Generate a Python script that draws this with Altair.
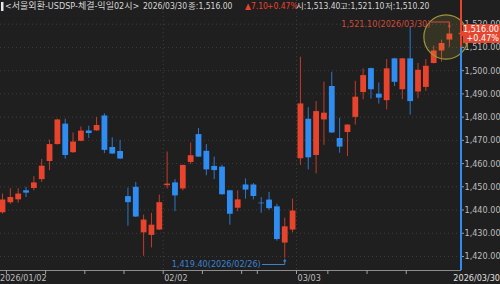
import altair as alt
import pandas as pd

# ---------------- data ----------------
dates = [
    "2026/01/02", "2026/01/05", "2026/01/06", "2026/01/07", "2026/01/08", "2026/01/09",
    "2026/01/12", "2026/01/13", "2026/01/14", "2026/01/15", "2026/01/16",
    "2026/01/19", "2026/01/20", "2026/01/21", "2026/01/22", "2026/01/23",
    "2026/01/26", "2026/01/27", "2026/01/28", "2026/01/29", "2026/01/30",
    "2026/02/02", "2026/02/03", "2026/02/04", "2026/02/05", "2026/02/06",
    "2026/02/09", "2026/02/10", "2026/02/11", "2026/02/12", "2026/02/13",
    "2026/02/19", "2026/02/20",
    "2026/02/23", "2026/02/24", "2026/02/25", "2026/02/26", "2026/02/27",
    "2026/03/03", "2026/03/04", "2026/03/05", "2026/03/06",
    "2026/03/09", "2026/03/10", "2026/03/11", "2026/03/12", "2026/03/13",
    "2026/03/16", "2026/03/17", "2026/03/18", "2026/03/19", "2026/03/20",
    "2026/03/23", "2026/03/24", "2026/03/25", "2026/03/26", "2026/03/27",
    "2026/03/30",
]
opens = [
    1439.1, 1443.4, 1444.6, 1448.5, 1449.5, 1453.3, 1461.1, 1468.4, 1477.2, 1464.9,
    1469.8, 1474.2, 1474.3, 1480.7, 1467.1, 1465.4, 1446.0, 1450.0, 1430.4, 1429.3,
    1431.6, 1450.7, 1451.9, 1449.3, 1460.7, 1472.7, 1465.5, 1459.0, 1458.7, 1448.5,
    1441.0, 1451.0, 1451.0, 1443.2, 1444.5, 1441.6, 1426.0, 1431.6, 1462.3, 1479.3,
    1463.7, 1479.0, 1493.4, 1471.0, 1473.6, 1480.1, 1490.8, 1501.1, 1490.1, 1487.3,
    1505.3, 1492.0, 1505.3, 1491.0, 1493.0, 1503.3, 1508.7, 1513.4,
]
highs = [
    1447.1, 1449.4, 1449.4, 1450.0, 1454.6, 1462.0, 1470.3, 1479.3, 1479.3, 1473.4,
    1476.0, 1476.3, 1480.1, 1481.6, 1471.3, 1470.2, 1449.7, 1452.1, 1438.0, 1438.8,
    1446.7, 1465.2, 1453.3, 1459.6, 1469.1, 1475.3, 1468.4, 1463.0, 1459.5, 1448.7,
    1448.5, 1453.6, 1451.6, 1445.6, 1447.8, 1442.7, 1436.7, 1444.9, 1506.0, 1484.3,
    1486.9, 1495.3, 1499.5, 1479.7, 1477.0, 1495.6, 1501.0, 1501.3, 1494.9, 1505.0,
    1505.5, 1505.5, 1518.8, 1503.3, 1505.0, 1510.8, 1513.4, 1521.1,
]
lows = [
    1438.5, 1442.7, 1443.2, 1445.6, 1448.5, 1452.1, 1457.2, 1468.2, 1462.1, 1464.6,
    1469.6, 1471.0, 1474.1, 1464.5, 1464.1, 1462.0, 1433.3, 1437.0, 1420.3, 1423.9,
    1431.4, 1449.3, 1439.5, 1448.5, 1459.8, 1462.8, 1455.0, 1453.3, 1446.6, 1433.7,
    1439.5, 1444.9, 1444.6, 1438.8, 1440.1, 1426.8, 1419.4, 1430.4, 1459.4, 1457.5,
    1455.8, 1468.1, 1473.2, 1464.7, 1463.2, 1476.8, 1487.7, 1488.0, 1485.8, 1483.3,
    1493.4, 1487.7, 1481.1, 1488.1, 1491.3, 1503.1, 1503.9, 1510.2,
]
closes = [
    1444.5, 1445.6, 1447.1, 1447.5, 1451.9, 1459.1, 1468.4, 1479.0, 1463.7, 1469.5,
    1474.2, 1473.2, 1476.6, 1465.9, 1464.3, 1462.2, 1443.4, 1437.2, 1435.9, 1433.7,
    1443.4, 1451.4, 1446.3, 1459.4, 1463.6, 1463.0, 1457.5, 1457.2, 1446.8, 1438.4,
    1444.6, 1448.8, 1446.0, 1442.9, 1440.8, 1427.5, 1433.0, 1439.8, 1485.9, 1462.7,
    1482.6, 1481.9, 1473.4, 1467.3, 1476.8, 1488.8, 1498.1, 1492.0, 1488.4, 1501.0,
    1495.2, 1505.3, 1486.9, 1500.4, 1502.1, 1508.7, 1511.9, 1516.0,
]
y_ticks = [1420, 1430, 1440, 1450, 1460, 1470, 1480, 1490, 1500, 1510, 1520]

header_title = "<서울외환-USDSP-체결-익일02시>"
change_abs = 7.10
change_pct = 0.47

# ---------------- colours / style ----------------
BG = "#1f1f1f"
UP = "#e8432d"
DOWN = "#2f8df2"
UP_WICK = "#c23c2b"
DOWN_WICK = "#2b78d0"
GRID = "#3e3e3e"
LABEL = "#bdbdbd"
NARROW = "Liberation Sans Narrow, DejaVu Sans Condensed, Liberation Sans, sans-serif"
KFONT = "Liberation Sans Narrow, DejaVu Sans Condensed, Noto Sans CJK KR, sans-serif"

W, H = 500, 284
PLOT_R = 461
AX_Y = 270

xs = alt.Scale(domain=[-0.319, 63.457], nice=False, zero=False)
ys = alt.Scale(domain=[1408.16, 1530.42], nice=False, zero=False)

df = pd.DataFrame({"date": dates, "open": opens, "high": highs, "low": lows, "close": closes})
df["idx"] = range(len(df))
df["dir"] = ["up" if c >= o else "down" for o, c in zip(df["open"], df["close"])]
df["x0"] = df["idx"] - 0.37
df["x1"] = df["idx"] + 0.37
dt = pd.to_datetime(df["date"])
df["week"] = dt.dt.isocalendar().week.astype(int)
df["month"] = dt.dt.month
wk = df[(df["week"] != df["week"].shift()) & (df["idx"] > 0) & (df["idx"] < len(df) - 1)].copy()
wk["xt"] = wk["idx"] - 0.5
ms = df[(df["month"] != df["month"].shift()) & (df["idx"] > 0)].copy()
ms["xt"] = ms["idx"] - 0.5
ms["lab"] = ms["date"].str[5:]

one = pd.DataFrame({"a": [0]})

X = lambda f: alt.X(f, scale=xs, axis=None)
Y = lambda f: alt.Y(f, scale=ys, axis=None)

# gridlines
gy = pd.DataFrame({"v": y_ticks})
gy["lab"] = [f"{v:,.2f}" for v in y_ticks]
hgrid = alt.Chart(gy).mark_rule(color=GRID, strokeDash=[1, 3], strokeWidth=1).encode(
    y=Y("v:Q"), x=alt.value(0), x2=alt.value(PLOT_R))
vgrid = alt.Chart(ms).mark_rule(color=GRID, strokeDash=[1, 3], strokeWidth=1).encode(
    x=X("xt:Q"), y=alt.value(0), y2=alt.value(AX_Y))

# candles
wicks = alt.Chart(df).mark_rule(strokeWidth=1).encode(
    x=X("idx:Q"), y=Y("low:Q"), y2="high:Q",
    stroke=alt.Stroke("dir:N", scale=alt.Scale(domain=["up", "down"], range=[UP_WICK, DOWN_WICK]), legend=None))
bodies = alt.Chart(df).mark_rect().encode(
    x=X("x0:Q"), x2="x1:Q", y=Y("open:Q"), y2="close:Q",
    fill=alt.Fill("dir:N", scale=alt.Scale(domain=["up", "down"], range=[UP, DOWN]), legend=None))

# right axis labels & ticks
ylabels = alt.Chart(gy).mark_text(align="left", baseline="middle", fontSize=9, font=NARROW, color=LABEL).encode(
    y=Y("v:Q"), x=alt.value(464.5), text="lab:N")
yticks = alt.Chart(gy).mark_rule(color="#9a9a9a").encode(
    y=Y("v:Q"), x=alt.value(PLOT_R), x2=alt.value(464))

# bottom axis
xline = alt.Chart(one).mark_rule(color="#8c8c8c", strokeWidth=1).encode(
    x=alt.value(0), x2=alt.value(PLOT_R), y=alt.value(AX_Y + 0.5))
wticks = alt.Chart(wk).mark_rule(color="#a0a0a0").encode(
    x=X("xt:Q"), y=alt.value(AX_Y), y2=alt.value(AX_Y + 4))
mlabels = alt.Chart(ms).mark_text(align="left", baseline="middle", fontSize=9, font=NARROW, color=LABEL, dx=1).encode(
    x=X("xt:Q"), y=alt.value(277.5), text="lab:N")
first_last = pd.DataFrame({"lab": [dates[0], dates[-1]], "px": [0, 500]})
fl_left = alt.Chart(first_last.iloc[[0]]).mark_text(align="left", baseline="middle", fontSize=9, font=NARROW, color=LABEL).encode(
    x=alt.X("px:Q", scale=None), y=alt.value(277.5), text="lab:N")
fl_right = alt.Chart(first_last.iloc[[1]]).mark_text(align="right", baseline="middle", fontSize=9, font=NARROW, color="#e0e0e0").encode(
    x=alt.X("px:Q", scale=None), y=alt.value(277.5), text="lab:N")

# highlight circle around last candles
circle = alt.Chart(one).mark_point(filled=False, fill="#c8c045", fillOpacity=0.13, stroke="#9c963a",
                                   strokeWidth=1.2, shape="circle", size=1960).encode(
    x=alt.value(446), y=alt.value(37))

# current price vertical line (red above, blue below)
last_close = closes[-1]
vred = alt.Chart(one).mark_rule(color=UP, strokeWidth=2).encode(
    x=alt.value(PLOT_R), y=alt.value(0), y2=alt.value(47))
vblue = alt.Chart(one).mark_rule(color=DOWN, strokeWidth=2).encode(
    x=alt.value(PLOT_R), y=alt.value(47), y2=alt.value(AX_Y))

# price box
pbox_df = pd.DataFrame({"l1": [f"{last_close:,.2f}"], "l2": [f"+{change_pct:.2f}%"], "v": [last_close]})
pbox = alt.Chart(pbox_df).mark_rect(color="#e4472f").encode(
    x=alt.value(463), x2=alt.value(500), y=alt.value(24), y2=alt.value(43))
parrow = alt.Chart(pbox_df).mark_point(shape="triangle-left", filled=True, color="#e4472f", size=40, opacity=1).encode(
    x=alt.value(461), y=Y("v:Q"))
ptext1 = alt.Chart(pbox_df).mark_text(align="right", baseline="middle", fontSize=9, font=NARROW, color="white").encode(
    x=alt.value(499), y=alt.value(29), text="l1:N")
ptext2 = alt.Chart(pbox_df).mark_text(align="right", baseline="middle", fontSize=9, font=NARROW, color="white").encode(
    x=alt.value(499), y=alt.value(38), text="l2:N")

# max / min annotations
imax = highs.index(max(highs))
imin = lows.index(min(lows))
mx = pd.DataFrame({"idx": [imax], "v": [highs[imax]], "lab": [f"{highs[imax]:,.2f}({dates[imax]})"]})
mn = pd.DataFrame({"idx": [imin], "v": [lows[imin]], "lab": [f"{lows[imin]:,.2f}({dates[imin]})"]})
MAXC = "#cf4a39"
MINC = "#3b82d2"
mx_text = alt.Chart(mx).mark_text(align="right", baseline="middle", fontSize=9, font=NARROW, color=MAXC, dx=-19, dy=2).encode(
    x=X("idx:Q"), y=Y("v:Q"), text="lab:N")
mx_h = alt.Chart(mx).mark_rule(color=MAXC).encode(x=X("idx:Q"), x2=alt.value(431), y=alt.value(22))
mx_v = alt.Chart(mx).mark_rule(color=MAXC).encode(x=X("idx:Q"), y=alt.value(22), y2=alt.value(27))
mx_a = alt.Chart(mx).mark_point(shape="triangle-down", filled=True, color=MAXC, size=12, opacity=1).encode(
    x=X("idx:Q"), y=alt.value(27))
mn_text = alt.Chart(mn).mark_text(align="right", baseline="middle", fontSize=9, font=NARROW, color=MINC, dx=-24, dy=6.5).encode(
    x=X("idx:Q"), y=Y("v:Q"), text="lab:N")
mn_h = alt.Chart(mn).mark_rule(color=MINC).encode(x=X("idx:Q"), x2=alt.value(262), y=alt.value(264.5))
mn_v = alt.Chart(mn).mark_rule(color=MINC).encode(x=X("idx:Q"), y=alt.value(260), y2=alt.value(264.5))
mn_a = alt.Chart(mn).mark_point(shape="triangle-up", filled=True, color=MINC, size=12, opacity=1).encode(
    x=X("idx:Q"), y=alt.value(260))

# header
title_df = pd.DataFrame({"t": [header_title], "px": [5]})
hdr = pd.DataFrame({
    "t": [dates[-1], f"종:{closes[-1]:,.2f}", f"▲{change_abs:.2f}", f"+{change_pct:.2f}%",
          f"시:{opens[-1]:,.2f}", f"고:{highs[-1]:,.2f}", f"저:{lows[-1]:,.2f}"],
    "px": [143, 188, 245, 267, 296, 340, 385],
    "c": ["#d6d6d6", "#d6d6d6", UP, UP, "#d6d6d6", "#d6d6d6", "#d6d6d6"],
})
title = alt.Chart(title_df).mark_text(align="left", baseline="middle", fontSize=9, font=KFONT, color="#d6d6d6").encode(
    x=alt.X("px:Q", scale=None), y=alt.value(6), text="t:N")
header = alt.Chart(hdr).mark_text(align="left", baseline="middle", fontSize=8.5, font=KFONT).encode(
    x=alt.X("px:Q", scale=None), y=alt.value(6), text="t:N", color=alt.Color("c:N", scale=None))
hbar = alt.Chart(one).mark_rect(color="#e6e6e6").encode(
    x=alt.value(1), x2=alt.value(3.5), y=alt.value(2), y2=alt.value(11))

chart = alt.layer(
    hgrid, vgrid, wicks, bodies, ylabels, yticks, xline, wticks, mlabels, fl_left, fl_right,
    circle, vred, vblue, pbox, parrow, ptext1, ptext2,
    mx_text, mx_h, mx_v, mx_a, mn_text, mn_h, mn_v, mn_a, title, header, hbar,
).resolve_scale(color="independent").properties(
    width=W, height=H, autosize=alt.AutoSizeParams(type="none"), padding=0, background=BG,
).configure_view(stroke=None)

chart.save("out.html", embed_options={"renderer": "svg", "actions": False})
